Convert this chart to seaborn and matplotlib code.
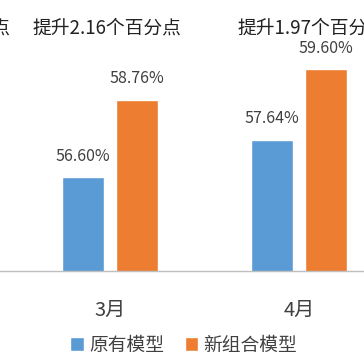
import matplotlib
matplotlib.use("Agg")
import matplotlib.pyplot as plt
import seaborn as sns
import pandas as pd

months = ["3月", "4月"]
models = ["原有模型", "新组合模型"]
old_vals = [56.60, 57.64]
new_vals = [58.76, 59.60]
gain_labels = ["提升2.16个百分点", "提升1.97个百分点"]
prev_gain_tail = "个百分点"  # cut-off label of the preceding month

df = pd.DataFrame({
    "月份": months * 2,
    "模型": [models[0]] * 2 + [models[1]] * 2,
    "值": old_vals + new_vals,
})

sns.set_theme(style="white")
plt.rcParams["font.family"] = ["Noto Sans CJK SC", "DejaVu Sans"]

fig = plt.figure(figsize=(3.64, 3.64), dpi=100)
ax = fig.add_axes([0, 93 / 364, 1, 271 / 364])

palette = {models[0]: "#5B9BD5", models[1]: "#ED7D31"}
sns.barplot(data=df, x="月份", y="值", hue="模型", order=months, hue_order=models,
            palette=palette, width=0.571, gap=0.22, ax=ax, saturation=1)

ax.set_xlim(-110 / 189, 254 / 189)
ax.set_ylim(54, 54 + 271 / 36)

for cont in ax.containers:
    ax.bar_label(cont, labels=[f"{v:.2f}%" for v in cont.datavalues], padding=9,
                 fontsize=11.5, color="#404040")

title_y = 54 + 243 / 36
title_shift = [-0.016, 0.069]
for i, t in enumerate(gain_labels):
    ax.text(i + title_shift[i], title_y, t, ha="center", va="center", fontsize=13.5,
            color="#222222")
ax.text(10 / 189 - 110 / 189, title_y, prev_gain_tail, ha="right", va="center",
        fontsize=13.5, color="#222222")

for s in ["top", "right", "left"]:
    ax.spines[s].set_visible(False)
ax.spines["bottom"].set_color("#BFBFBF")
ax.spines["bottom"].set_linewidth(1)
ax.set_yticks([])
ax.set_xlabel("")
ax.set_ylabel("")
ax.tick_params(axis="x", length=0, pad=21, labelsize=14.5, labelcolor="#404040")

sns.move_legend(ax, "center", bbox_to_anchor=(0.505, 19 / 364), bbox_transform=fig.transFigure,
                ncol=2, frameon=False, title=None, fontsize=13.5, handlelength=0.7,
                handleheight=0.7, handletextpad=0.3, columnspacing=1.1, labelcolor="#404040")

fig.savefig("out.png", dpi=100)
